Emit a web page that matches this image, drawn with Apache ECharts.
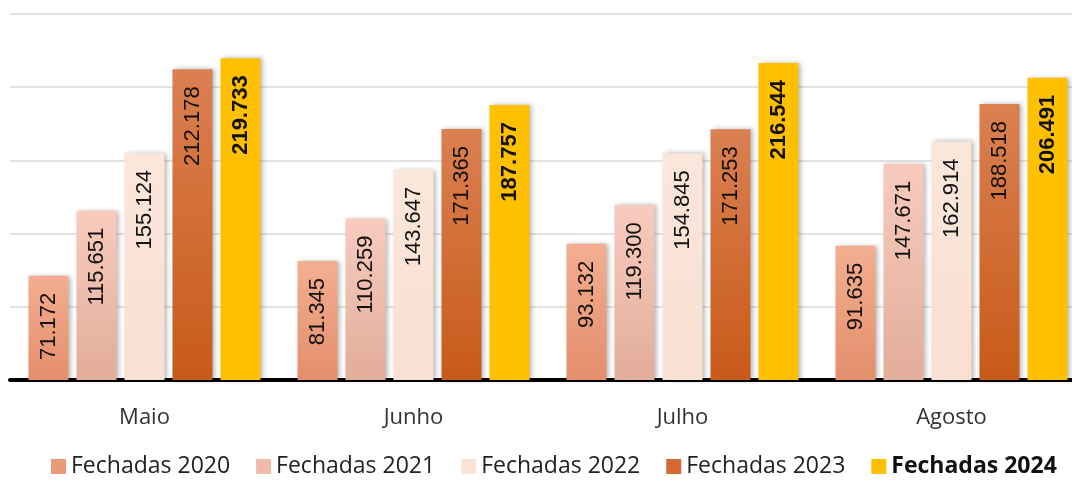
<!DOCTYPE html>
<html><head><meta charset="utf-8">
<script src="https://cdn.jsdelivr.net/npm/echarts@6/dist/echarts.min.js"></script>
<style>html,body{margin:0;padding:0;background:#fff}#c{width:1072px;height:484px}</style>
</head><body><div id="c"></div>
<script>
const categories = ['Maio', 'Junho', 'Julho', 'Agosto'];
const seriesNames = ['Fechadas 2020', 'Fechadas 2021', 'Fechadas 2022', 'Fechadas 2023', 'Fechadas 2024'];
const v2020 = [71.172, 81.345, 93.132, 91.635];
const v2021 = [115.651, 110.259, 119.300, 147.671];
const v2022 = [155.124, 143.647, 154.845, 162.914];
const v2023 = [212.178, 171.365, 171.253, 188.518];
const v2024 = [219.733, 187.757, 216.544, 206.491];
const values = [v2020, v2021, v2022, v2023, v2024];

function grad(top, bottom) {
  return new echarts.graphic.LinearGradient(0, 0, 0, 1, [{offset: 0, color: top}, {offset: 1, color: bottom}]);
}
const fills = [
  grad('#F3AE90', '#E48E6C'),
  grad('#F8CBBE', '#E2AD99'),
  grad('#FBE6DA', '#F8E0D2'),
  grad('#DB8052', '#C85A19'),
  '#FFC000'
];
const legendColors = ['#EA9A78', '#F0BCAA', '#FAE3D6', '#D36A30', '#FFC000'];

const fmt = v => v.toFixed(3);

const chart = echarts.init(document.getElementById('c'), null, {renderer: 'canvas'});
chart.setOption({
  animation: false,
  backgroundColor: '#fff',
  grid: {left: 10, width: 1076, top: 14, bottom: 104, outerBoundsMode: 'none', containLabel: false},
  legend: {
    bottom: 1,
    left: 46,
    itemWidth: 15, itemHeight: 15,
    itemGap: 26,
    icon: 'rect',
    textStyle: {fontFamily: 'Open Sans', fontSize: 23, color: '#222',
      rich: {b: {fontFamily: 'Open Sans', fontSize: 23, fontWeight: 'bold', color: '#111'}}},
    formatter: name => name === 'Fechadas 2024' ? '{b|' + name + '}' : name,
    data: seriesNames.map((n, i) => ({name: n, itemStyle: {color: legendColors[i]}}))
  },
  xAxis: {
    type: 'category',
    data: categories,
    axisLine: {lineStyle: {color: '#000', width: 4}},
    axisTick: {show: false},
    axisLabel: {fontFamily: 'Open Sans', fontSize: 22, color: '#333', margin: 27}
  },
  yAxis: {
    type: 'value', min: 0, max: 250, interval: 50,
    axisLabel: {show: false}, axisLine: {show: false}, axisTick: {show: false},
    splitLine: {lineStyle: {color: '#E3E3E3', width: 2}}
  },
  series: seriesNames.map((n, i) => ({
    name: n,
    type: 'bar',
    data: values[i],
    barWidth: 40,
    barGap: '20%',
    itemStyle: {color: fills[i], shadowColor: 'rgba(0,0,0,0.3)', shadowBlur: 5, shadowOffsetX: 2, shadowOffsetY: 0},
    label: {
      show: true,
      position: 'insideTop',
      rotate: 90,
      align: 'right',
      verticalAlign: 'middle',
      distance: 17,
      formatter: p => fmt(p.value),
      fontFamily: 'Liberation Sans',
      fontSize: 22,
      fontWeight: i === 4 ? 'bold' : 'normal',
      color: '#111'
    }
  }))
});
</script></body></html>
